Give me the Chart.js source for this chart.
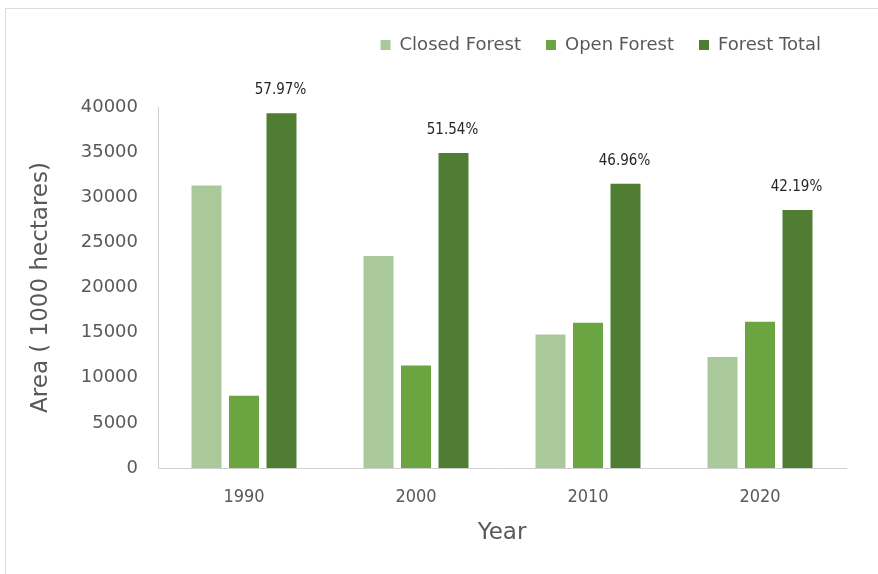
<!DOCTYPE html>
<html>
<head>
<meta charset="utf-8">
<script src="https://cdn.jsdelivr.net/npm/chart.js@4/dist/chart.umd.min.js"></script>
<style>
  html, body { margin: 0; padding: 0; background: #fff; }
  #wrap { position: relative; width: 878px; height: 574px; overflow: hidden; background: #fff; }
  #frame { position: absolute; left: 5px; top: 8px; width: 1000px; height: 1000px; border-left: 1px solid #dcdcdc; border-top: 1px solid #dcdcdc; }
  canvas { position: absolute; left: 0; top: 0; }
</style>
</head>
<body>
<div id="wrap">
  <div id="frame"></div>
  <canvas id="c" width="878" height="574"></canvas>
</div>
<script>
const years = ['1990', '2000', '2010', '2020'];
const closedForest = [31300, 23500, 14800, 12300];
const openForest = [8000, 11350, 16100, 16200];
const forestTotal = [39300, 34900, 31500, 28600];
const totalPercentLabels = ['57.97%', '51.54%', '46.96%', '42.19%'];
const yTicks = [0, 5000, 10000, 15000, 20000, 25000, 30000, 35000, 40000];

const FONT = '"DejaVu Sans", sans-serif';
const FONT_C = '"DejaVu Sans Condensed", "DejaVu Sans", sans-serif';

const pctPlugin = {
  id: 'pctLabels',
  afterDatasetsDraw(chart) {
    const meta = chart.getDatasetMeta(2);
    const ctx = chart.ctx;
    ctx.save();
    ctx.font = '15px ' + FONT_C;
    ctx.fillStyle = '#262626';
    ctx.textAlign = 'center';
    ctx.textBaseline = 'middle';
    meta.data.forEach((bar, i) => {
      ctx.fillText(totalPercentLabels[i], bar.x - 1, bar.y - 23);
    });
    ctx.restore();
  }
};

const legendSpace = {
  id: 'legendSpace',
  beforeInit(chart) {
    const orig = chart.legend.fit;
    chart.legend.fit = function () {
      orig.call(this);
      this.height += 43;
    };
  }
};

new Chart(document.getElementById('c'), {
  type: 'bar',
  data: {
    labels: years,
    datasets: [
      { label: 'Closed Forest', data: closedForest, backgroundColor: '#A9C99B' },
      { label: 'Open Forest', data: openForest, backgroundColor: '#6AA542' },
      { label: 'Forest Total', data: forestTotal, backgroundColor: '#4F7E32' }
    ]
  },
  options: {
    responsive: false,
    animation: false,
    categoryPercentage: 0.654,
    barPercentage: 0.8,
    layout: { padding: { left: 27, right: 32, top: 11, bottom: 10 } },
    plugins: {
      legend: {
        position: 'top',
        align: 'end',
        labels: {
          boxWidth: 10, boxHeight: 10, padding: 25,
          color: '#595959',
          font: { family: FONT, size: 18 }
        }
      },
      tooltip: { enabled: false }
    },
    scales: {
      x: {
        afterFit(scale) { scale.height = 574 - 10 - 468; },
        grid: { display: false, drawTicks: false },
        border: { display: true, color: '#d0d0d0', width: 1 },
        ticks: { color: '#595959', padding: 19, font: { family: FONT_C, size: 18 } },
        title: { display: true, text: 'Year', color: '#595959', padding: { top: 0, bottom: 17 }, font: { family: FONT, size: 23 } }
      },
      y: {
        min: 0, max: 40000,
        afterBuildTicks(scale) { scale.ticks = yTicks.map(v => ({ value: v })); },
        afterFit(scale) { scale.width = 158 - 27; },
        grid: { display: false, drawTicks: false },
        border: { display: true, color: '#d0d0d0', width: 1 },
        ticks: { color: '#595959', padding: 20, font: { family: FONT, size: 18 }, callback: v => String(v) },
        title: { display: true, text: 'Area ( 1000 hectares)', color: '#595959', padding: { top: 0, bottom: 4 }, font: { family: FONT, size: 23 } }
      }
    }
  },
  plugins: [pctPlugin, legendSpace]
});
</script>
</body>
</html>
